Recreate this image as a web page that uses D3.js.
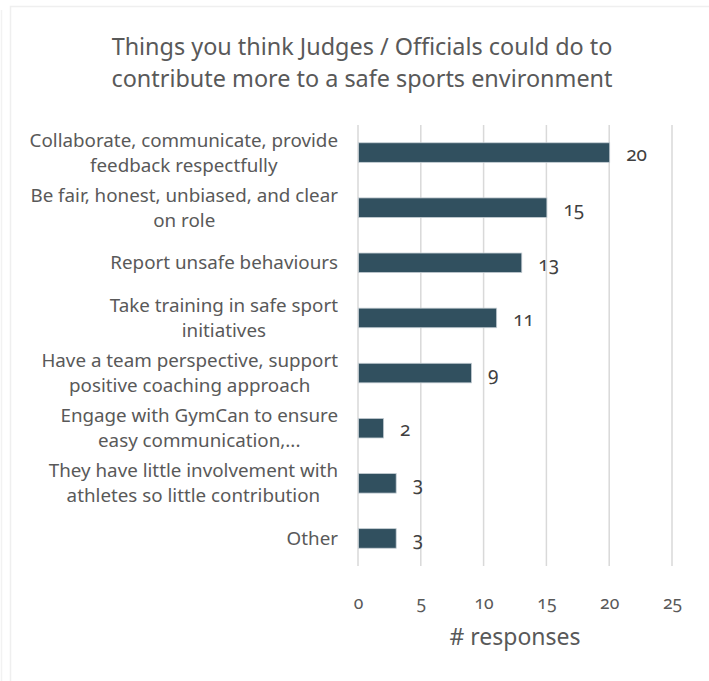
<!DOCTYPE html>
<html>
<head>
<meta charset="utf-8">
<script src="https://cdn.jsdelivr.net/npm/d3@7"></script>
<style>
  html, body { margin: 0; padding: 0; background: #fff; }
  svg { display: block; }
  text { font-family: "Noto Sans", "Open Sans", sans-serif; }
  .num { font-variant-numeric: oldstyle-nums; font-feature-settings: "onum" 1; }
</style>
</head>
<body>
<svg id="chart" width="709" height="681"></svg>
<script>
// Survey answers (each category label is split into its display lines)
const categories = [
  ["Collaborate, communicate, provide", "feedback respectfully"],
  ["Be fair, honest, unbiased, and clear", "on role"],
  ["Report unsafe behaviours"],
  ["Take training in safe sport", "initiatives"],
  ["Have a team perspective, support", "positive coaching approach"],
  ["Engage with GymCan to ensure", "easy communication,..."],
  ["They have little involvement with", "athletes so little contribution"],
  ["Other"]
];
const responses = [20, 15, 13, 11, 9, 2, 3, 3];
const xTicks = [0, 5, 10, 15, 20, 25];
const titleLines = [
  "Things you think Judges / Officials could do to",
  "contribute more to a safe sports environment"
];
const axisTitle = "# responses";

const svg = d3.select("#chart");
const W = 709, H = 681;
const margin = { top: 125, left: 358, right: 37, bottom: 115 };

// chart frame
svg.append("rect").attr("x", 10.5).attr("y", 6.5).attr("width", W).attr("height", H)
  .attr("fill", "#fff").attr("stroke", "#efefef").attr("stroke-width", 1.5);
svg.append("line").attr("x1", 1.5).attr("x2", 1.5).attr("y1", 10).attr("y2", H)
  .attr("stroke", "#f2f2f2").attr("stroke-width", 1.5);

const x = d3.scaleLinear().domain([0, 25]).range([margin.left, W - margin.right]);
const y = d3.scaleBand().domain(d3.range(categories.length))
  .range([margin.top, H - margin.bottom]).paddingInner(0.645).paddingOuter(0.3225);

// title
svg.append("text").attr("text-anchor", "middle").attr("fill", "#595959")
  .attr("font-size", 23.4)
  .selectAll("tspan").data(titleLines).join("tspan")
  .attr("x", 362).attr("y", (d, i) => 55 + i * 32).text(d => d);

// vertical gridlines
svg.append("g").selectAll("line").data(xTicks).join("line")
  .attr("x1", d => x(d)).attr("x2", d => x(d))
  .attr("y1", margin.top).attr("y2", H - margin.bottom)
  .attr("stroke", "#d9d9d9").attr("stroke-width", 1.5);

// x axis tick labels
const xAxis = d3.axisBottom(x).tickValues(xTicks).tickSize(0).tickPadding(0);
const gx = svg.append("g").attr("transform", `translate(0,${H - margin.bottom})`).call(xAxis);
gx.select(".domain").remove();
gx.selectAll("text").attr("class", "num").attr("dy", null).attr("y", 43)
  .attr("font-size", 17.5).attr("fill", "#595959")
  .attr("font-family", '"Noto Sans", "Open Sans", sans-serif');

// axis title
svg.append("text").attr("x", (x(0) + x(25)) / 2).attr("y", 645)
  .attr("text-anchor", "middle").attr("font-size", 23).attr("fill", "#595959")
  .text(axisTitle);

// bars
svg.append("g").selectAll("rect").data(responses).join("rect")
  .attr("x", x(0) + 0.5).attr("y", (d, i) => y(i))
  .attr("width", d => x(d) - x(0)).attr("height", y.bandwidth())
  .attr("fill", "#31505f").attr("stroke", "#c5ced4").attr("stroke-width", 0.8);

// value labels
svg.append("g").selectAll("text").data(responses).join("text")
  .attr("class", "num")
  .attr("x", d => x(d) + 17).attr("y", (d, i) => y(i) + y.bandwidth() / 2 + 8)
  .attr("font-size", 19).attr("fill", "#404040").text(d => d);

// category labels: single lines right-aligned, wrapped lines centred on the widest line
const labelRight = 338, lineH = 25;
const catG = svg.append("g").attr("font-size", 18.8).attr("fill", "#595959");
categories.forEach((lines, i) => {
  const cy = y(i) + y.bandwidth() / 2;
  const t = catG.append("text").attr("text-anchor", "end");
  const spans = t.selectAll("tspan").data(lines).join("tspan")
    .attr("x", labelRight)
    .attr("y", (d, k) => cy + 6.5 + (k - (lines.length - 1) / 2) * lineH)
    .text(d => d);
  if (lines.length > 1) {
    const widths = spans.nodes().map(n => n.getComputedTextLength());
    const maxW = d3.max(widths);
    const cx = labelRight - maxW / 2;
    t.attr("text-anchor", "middle");
    spans.attr("x", cx);
  }
});
</script>
</body>
</html>
